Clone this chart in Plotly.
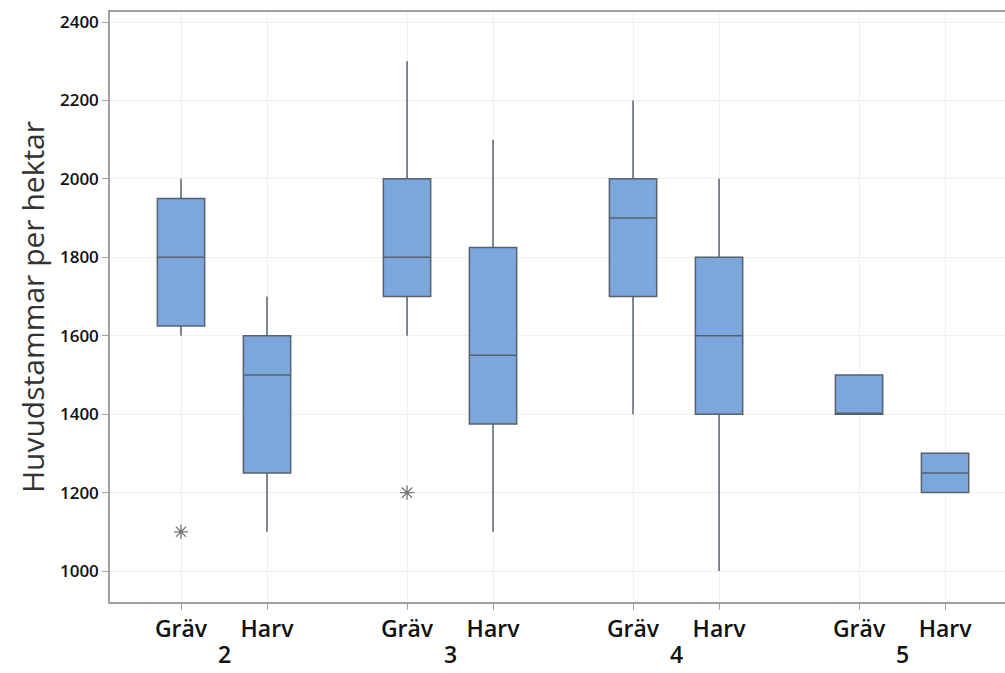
import plotly.graph_objects as go

# ---- data ----
groups = ["2", "3", "4", "5"]
methods = ["Gräv", "Harv"]
# order: (group, method) -> Gräv2, Harv2, Gräv3, Harv3, Gräv4, Harv4, Gräv5, Harv5
q1 = [1625, 1250, 1700, 1375, 1700, 1400, 1400, 1200]
median = [1800, 1500, 1800, 1550, 1900, 1600, 1400, 1250]
q3 = [1950, 1600, 2000, 1825, 2000, 1800, 1500, 1300]
lowerfence = [1600, 1100, 1600, 1100, 1400, 1000, 1400, 1200]
upperfence = [2000, 1700, 2300, 2100, 2200, 2000, 1500, 1300]
outlier_idx = [0, 2]
outlier_val = [1100, 1200]
y_ticks = [1000, 1200, 1400, 1600, 1800, 2000, 2200, 2400]
y_title = "Huvudstammar per hektar"

# ---- layout positions ----
group_step = 2.628
pos = []
labels = []
for gi, g in enumerate(groups):
    for mi, m in enumerate(methods):
        pos.append(gi * group_step + mi)
        labels.append(m)

fill = "#7BA7DC"
edge = "#56616c"

fig = go.Figure()
for i in range(len(pos)):
    fig.add_trace(go.Box(
        x=[pos[i]], q1=[q1[i]], median=[median[i]], q3=[q3[i]],
        lowerfence=[lowerfence[i]], upperfence=[upperfence[i]],
        width=0.55, whiskerwidth=0, boxpoints=False,
        fillcolor=fill, line=dict(color=edge, width=1.5),
        showlegend=False, hoverinfo="skip",
    ))

fig.add_trace(go.Scatter(
    x=[pos[i] for i in outlier_idx], y=outlier_val, mode="markers",
    marker=dict(symbol="asterisk-open", size=12, color="#777777",
                line=dict(color="#777777", width=1.3)),
    showlegend=False, hoverinfo="skip",
))

for gi, g in enumerate(groups):
    fig.add_annotation(
        x=gi * group_step + 0.5, xref="x", y=0, yref="paper",
        yshift=-70, yanchor="bottom", text=g, showarrow=False,
        font=dict(family="Open Sans", size=23, color="#111111", weight=600),
    )

fig.update_layout(
    width=1005, height=673,
    margin=dict(l=110, r=0, t=12, b=71),
    paper_bgcolor="white", plot_bgcolor="white",
    xaxis=dict(
        range=[-0.8256, 9.581], tickvals=pos, ticktext=labels,
        showgrid=True, gridcolor="#f0f0f0", gridwidth=1,
        zeroline=False, showline=True, linecolor="#a0a0a0", linewidth=1.5,
        mirror=True, ticks="outside", ticklen=6, tickcolor="#a0a0a0",
        tickfont=dict(family="Open Sans", size=23, color="#111111", weight=600),
    ),
    yaxis=dict(
        range=[921, 2425.5], tickvals=y_ticks,
        showgrid=True, gridcolor="#f0f0f0", gridwidth=1,
        zeroline=False, showline=True, linecolor="#a0a0a0", linewidth=1.5,
        ticks="outside", ticklen=6, tickcolor="#a0a0a0",
        tickfont=dict(family="Open Sans", size=17, color="#111111", weight=600),
        title=dict(text=y_title, standoff=6,
                   font=dict(family="Open Sans", size=30, color="#333333")),
    ),
)

fig.write_html("out.html")
